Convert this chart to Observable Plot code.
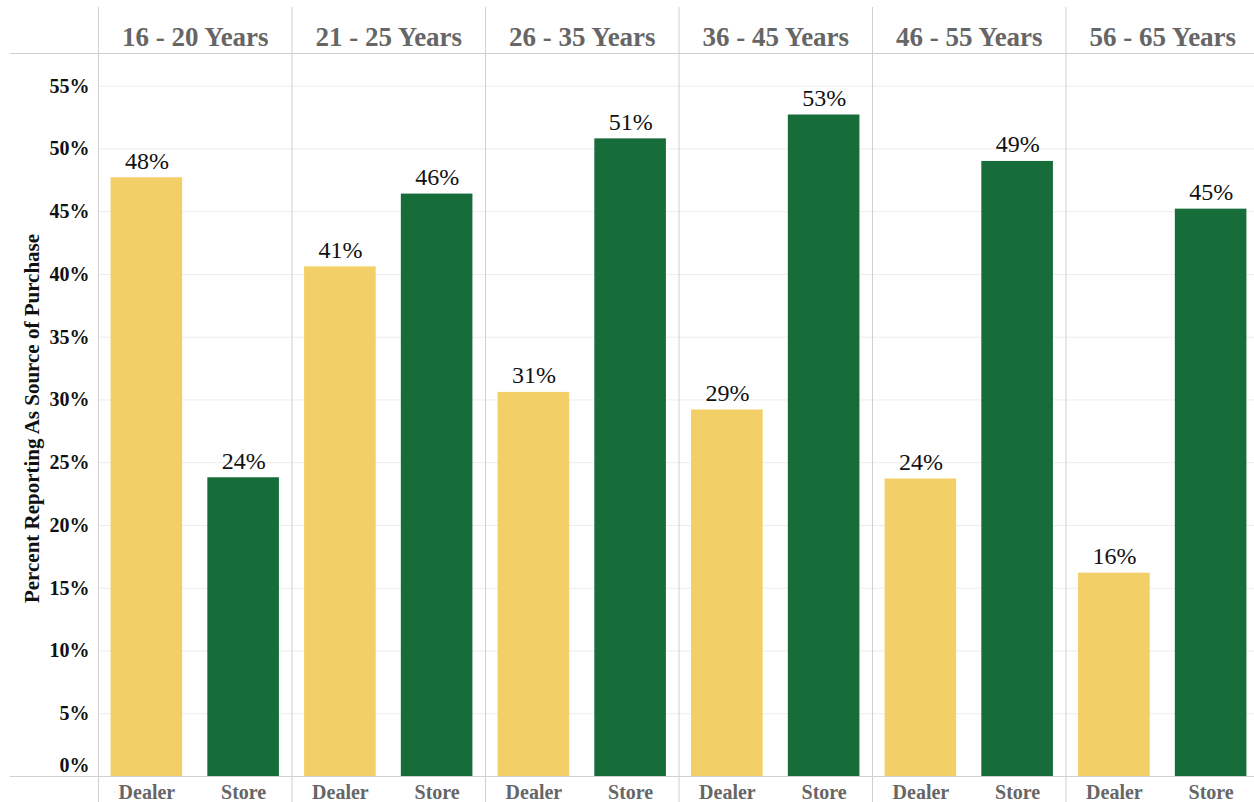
<!DOCTYPE html>
<html>
<head>
<meta charset="utf-8">
<script src="https://cdn.jsdelivr.net/npm/d3@7"></script>
<script src="https://cdn.jsdelivr.net/npm/@observablehq/plot@0.6"></script>
<style>
  html, body { margin: 0; padding: 0; background: #fff; }
  body { width: 1254px; height: 802px; overflow: hidden; position: relative; }
  #title { position: absolute; left: 12px; top: -20px; font: bold 27px/1 "Liberation Serif", serif; color: #000; white-space: nowrap; }
  #chart { position: absolute; left: 0; top: 0; }
</style>
</head>
<body>
<div id="title">Selecionada por Idade</div>
<div id="chart"></div>
<script>
// ---- data ----
const groups = ["16 - 20 Years", "21 - 25 Years", "26 - 35 Years", "36 - 45 Years", "46 - 55 Years", "56 - 65 Years"];
const sources = ["Dealer", "Store"];
const dealerValues = [47.7, 40.6, 30.6, 29.2, 23.7, 16.2];
const storeValues = [23.8, 46.4, 50.8, 52.7, 49.0, 45.2];
const yTicks = [5, 10, 15, 20, 25, 30, 35, 40, 45, 50, 55];
const colors = ["#F2CF67", "#166D3A"];
const yTitle = "Percent Reporting As Source of Purchase";

const data = [];
groups.forEach((g, i) => {
  data.push({group: g, source: "Dealer", value: dealerValues[i]});
  data.push({group: g, source: "Store", value: storeValues[i]});
});

const serif = "'Liberation Serif', 'Times New Roman', serif";

const plot = Plot.plot({
  width: 1254,
  height: 802,
  marginLeft: 98,
  marginRight: -5,
  marginTop: 53,
  marginBottom: 26,
  style: {fontFamily: serif, background: "#fff", overflow: "hidden"},
  fx: {domain: groups, padding: 0, axis: null, round: false},
  x: {domain: sources, paddingInner: 0.26, paddingOuter: 0.13, round: false},
  y: {domain: [0, 57.6]},
  color: {domain: sources, range: colors},
  marks: [
    Plot.ruleY([0, ...yTicks], {stroke: "#ececec", strokeWidth: 1}),
    Plot.barY(data, {fx: "group", x: "source", y: "value", fill: "source"}),
    Plot.text(data, {
      fx: "group", x: "source", y: "value",
      text: d => Math.round(d.value) + "%",
      lineAnchor: "bottom", dy: -9,
      fontSize: 24, fill: "#111", fontFamily: serif
    }),
    Plot.text(groups, {
      fx: d => d, text: d => d,
      frameAnchor: "top", lineAnchor: "bottom", dy: -8,
      fontSize: 27, fontWeight: "bold", fill: "#666", fontFamily: serif
    }),
    Plot.frame({anchor: "left", stroke: "#d0d0d0", insetTop: -46, insetBottom: -26}),
    Plot.axisX({
      anchor: "bottom", tickSize: 0, tickPadding: 8, label: null,
      fontSize: 20, fontWeight: "bold", fill: "#666", fontFamily: serif
    }),
    Plot.axisY(yTicks, {
      anchor: "left", tickSize: 0, tickPadding: 9, label: null,
      tickFormat: d => d + "%",
      fontSize: 20, fontWeight: "bold", fill: "#111", fontFamily: serif
    }),
    Plot.axisY([0], {
      anchor: "left", tickSize: 0, tickPadding: 9, label: null,
      tickFormat: d => d + "%", dy: -11,
      fontSize: 20, fontWeight: "bold", fill: "#111", fontFamily: serif
    })
  ]
});

document.getElementById("chart").appendChild(plot);

// horizontal header line and baseline spanning full width, plus y title
const svg = d3.select(plot);
const y = plot.scale("y");
const yTop = y.range[1];
const yBottom = y.range[0];
svg.append("line").attr("x1", 10).attr("x2", 1254).attr("y1", yTop + 0.5).attr("y2", yTop + 0.5)
  .attr("stroke", "#d0d0d0");
svg.append("line").attr("x1", 10).attr("x2", 1254).attr("y1", yBottom + 0.5).attr("y2", yBottom + 0.5)
  .attr("stroke", "#d0d0d0");
svg.append("text")
  .attr("transform", `translate(39,${(yTop + yBottom) / 2 + 4}) rotate(-90)`)
  .attr("text-anchor", "middle")
  .attr("font-family", serif)
  .attr("font-size", 21)
  .attr("font-weight", "bold")
  .attr("fill", "#111")
  .text(yTitle);
</script>
</body>
</html>
